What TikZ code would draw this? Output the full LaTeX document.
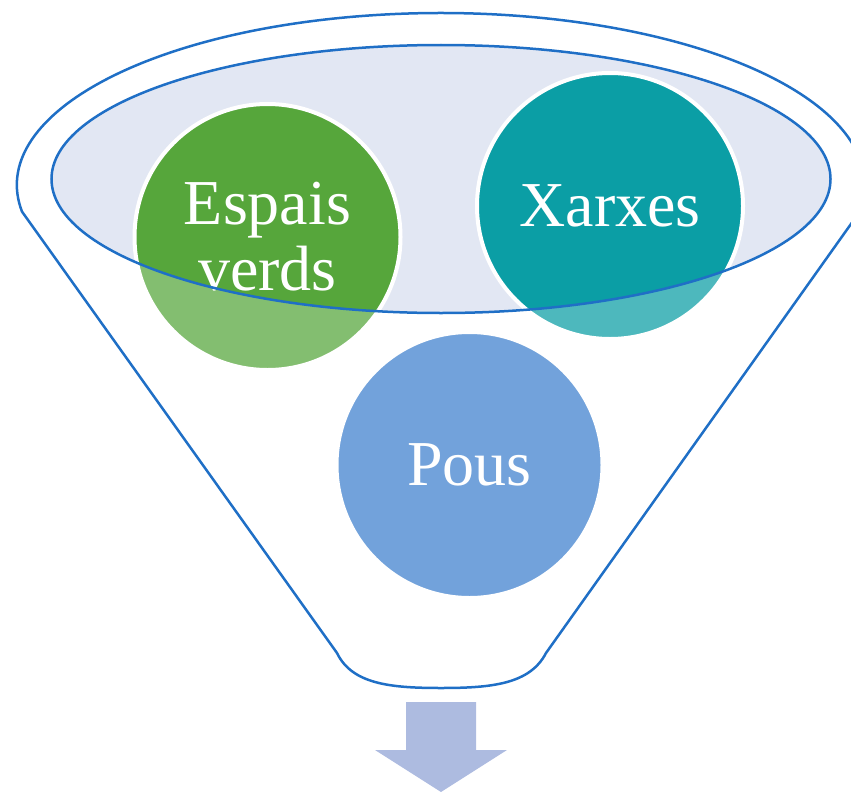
\documentclass[tikz,border=0pt]{standalone}
\usepackage{fontspec}
\setmainfont{Liberation Serif}
\usepackage{tikz}
\usetikzlibrary{shapes,arrows}
\definecolor{funline}{RGB}{31,111,198}
\definecolor{topfill}{RGB}{226,231,243}
\definecolor{cgreen}{RGB}{86,166,59}
\definecolor{cteal}{RGB}{11,158,165}
\definecolor{cblue}{RGB}{62,128,206}
\definecolor{arrfill}{RGB}{173,187,224}
\tikzstyle{c} = [circle, minimum size=266pt, inner sep=0pt, draw=white, line width=4pt, text=white, align=center, font=\fontsize{64}{66}\selectfont]

\begin{document}
\begin{tikzpicture}[x=1pt,y=-1pt]
			\useasboundingbox (0,0) rectangle (851,792);
			\fill[topfill] (441,179) ellipse [x radius=389.5, y radius=134];
			\node[c,fill=cgreen](1) at (267.5,237){Espais\\verds};
			\node[c,fill=cteal](2) at (610,206){Xarxes};
			\node[c,fill=cblue](3) at (469.5,465){Pous};
			\fill[white,opacity=0.27,even odd rule] (22,211.6) arc[start angle=171.1, end angle=368.9, x radius=424, y radius=172]
				-- (546,653) .. controls (530,684) and (492,688) .. (441,688) .. controls (390,688) and (352,684) .. (337,653) -- cycle
				(441,179) ellipse [x radius=389.5, y radius=134];
			\draw[funline,line width=2.5pt] (22,211.6) arc[start angle=171.1, end angle=368.9, x radius=424, y radius=172]
				-- (546,653) .. controls (530,684) and (492,688) .. (441,688) .. controls (390,688) and (352,684) .. (337,653) -- cycle;
			\draw[funline,line width=2.5pt] (441,179) ellipse [x radius=389.5, y radius=134];
			\fill[arrfill] (406,702) -- (476,702) -- (476,750) -- (507,750) -- (441,792) -- (375,750) -- (406,750) -- cycle;
		\end{tikzpicture}
\end{document}
